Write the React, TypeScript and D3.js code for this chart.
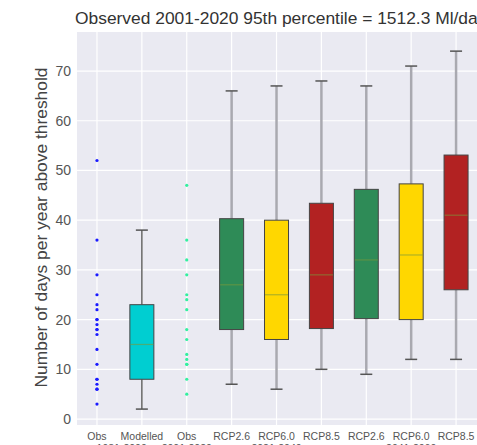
import React from "react";
import * as d3 from "d3";

const title = "Observed 2001-2020 95th percentile = 1512.3 Ml/day";
const yLabel = "Number of days per year above threshold";
const categories = ["Obs", "Modelled", "Obs", "RCP2.6", "RCP6.0", "RCP8.5", "RCP2.6", "RCP6.0", "RCP8.5"];
const periodLabels = ["1981-2000", "2001-2020", "2021-2040", "2041-2060"];
const periodPositions = [1.55, 3, 5, 8];
const yTicks = [0, 10, 20, 30, 40, 50, 60, 70];

const obs1981 = [52, 36, 29, 25, 23, 22, 20, 20, 19, 18, 18, 17, 14, 11, 8, 8, 7, 6, 6, 3];
const obs2001 = [47, 36, 32, 29, 25, 24, 22, 18, 16, 13, 12, 11, 11, 8, 5];

// box stats: [low whisker, q1, median, q3, high whisker]
const boxPositions = [2, 4, 5, 6, 7, 8, 9];
const boxStats = [
  [2, 8, 15, 23, 38],
  [7, 18, 27, 40.3, 66],
  [6, 16, 25, 40, 67],
  [10, 18.2, 29, 43.4, 68],
  [9, 20.2, 32, 46.2, 67],
  [12, 20, 33, 47.3, 71],
  [12, 26, 41, 53.1, 74],
];
const boxColors = ["#00ced1", "#2e8b57", "#ffd700", "#b22222", "#2e8b57", "#ffd700", "#b22222"];

const W = 477;
const H = 445;
const left = 77, right = 478.5, top = 32, bottom = 425;

export default function App() {
  const x = d3.scaleLinear().domain([0.555, 9.5]).range([left, right]);
  const y = d3.scaleLinear().domain([-1.2, 77.85]).range([bottom, top]);
  const boxW = 24;
  const capW = 12;
  const font = "'Liberation Sans', Arial, sans-serif";
  return (
    <svg width={W} height={H} style={{ position: "absolute", left: 0, top: 0 }} fontFamily={font}>
      <rect x={0} y={0} width={W} height={H} fill="#ffffff" />
      <rect x={left} y={top} width={right - left} height={bottom - top} fill="#eaeaf2" />
      {yTicks.map((t) => (
        <line key={"hg" + t} x1={left} x2={right} y1={y(t)} y2={y(t)} stroke="#ffffff" strokeWidth={1.2} />
      ))}
      {categories.map((c, i) => (
        <line key={"vg" + i} x1={x(i + 1)} x2={x(i + 1)} y1={top} y2={bottom} stroke="#ffffff" strokeWidth={1.2} />
      ))}
      {yTicks.map((t) => (
        <text key={"yt" + t} x={71} y={y(t) + 5} textAnchor="end" fontSize={14} fill="#555555">
          {t}
        </text>
      ))}
      {categories.map((c, i) => (
        <text key={"xt" + i} x={x(i + 1)} y={440} textAnchor="middle" fontSize={10.5} fill="#555555">
          {c}
        </text>
      ))}
      {periodLabels.map((p, i) => (
        <text key={"pl" + i} x={x(periodPositions[i])} y={452} textAnchor="middle" fontSize={10.5} fill="#555555">
          {p}
        </text>
      ))}
      <text x={75} y={24} textAnchor="start" fontSize={17.4} fill="#333333">
        {title}
      </text>
      <text
        transform={`translate(46.5, ${227.5}) rotate(-90)`}
        textAnchor="middle"
        fontSize={17.4}
        fill="#444444"
      >
        {yLabel}
      </text>
      {boxStats.map((s, i) => {
        const cx = x(boxPositions[i]);
        const modelled = i === 0;
        const wStroke = modelled ? "#666666" : "#a9a9b0";
        const wWidth = modelled ? 1.5 : 2.5;
        return (
          <g key={"box" + i}>
            <line x1={cx} x2={cx} y1={y(s[0])} y2={y(s[1])} stroke={wStroke} strokeWidth={wWidth} />
            <line x1={cx} x2={cx} y1={y(s[3])} y2={y(s[4])} stroke={wStroke} strokeWidth={wWidth} />
            <line x1={cx - capW / 2} x2={cx + capW / 2} y1={y(s[0])} y2={y(s[0])} stroke="#555555" strokeWidth={1.5} />
            <line x1={cx - capW / 2} x2={cx + capW / 2} y1={y(s[4])} y2={y(s[4])} stroke="#555555" strokeWidth={1.5} />
            <rect
              x={cx - boxW / 2}
              y={y(s[3])}
              width={boxW}
              height={y(s[1]) - y(s[3])}
              fill={boxColors[i]}
              stroke="#444444"
              strokeWidth={1}
            />
            <line
              x1={cx - boxW / 2 + 0.5}
              x2={cx + boxW / 2 - 0.5}
              y1={y(s[2])}
              y2={y(s[2])}
              stroke="#7a9a3a"
              strokeOpacity={0.6}
              strokeWidth={1.2}
            />
          </g>
        );
      })}
      {obs1981.map((v, i) => (
        <circle key={"o1" + i} cx={x(1)} cy={y(v)} r={1.6} fill="#1a1aff" />
      ))}
      {obs2001.map((v, i) => (
        <circle key={"o2" + i} cx={x(3)} cy={y(v)} r={1.6} fill="#33f0a0" />
      ))}
    </svg>
  );
}
